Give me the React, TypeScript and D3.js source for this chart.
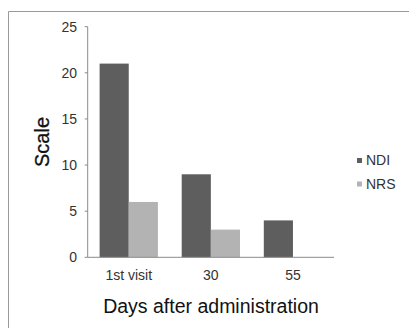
import React from "react";
import * as d3 from "d3";

const categories = ["1st visit", "30", "55"];
const seriesNames = ["NDI", "NRS"];
const ndiValues = [21, 9, 4];
const nrsValues = [6, 3, 0];
const yTicks = [0, 5, 10, 15, 20, 25];
const colors = ["#5e5e5e", "#b3b3b3"];

export default function App() {
  const W = 409, H = 328;
  const left = 87.7, right = 334, top = 26.7, bottom = 257.3;
  const x0 = d3.scaleBand<string>().domain(categories).range([left, right]).paddingInner(0.29).paddingOuter(0.145);
  const x1 = d3.scaleBand<string>().domain(seriesNames).range([0, x0.bandwidth()]);
  const y = d3.scaleLinear().domain([0, 25]).range([bottom, top]);
  const series = [ndiValues, nrsValues];
  const font = "'Liberation Sans', Arial, sans-serif";
  return (
    <svg width={W} height={H} style={{ position: "absolute", left: 0, top: 0 }}>
      <rect x={0} y={0} width={W} height={H} fill="#fff" />
      <path d={`M8.5,${H} V11.5 H${W}`} fill="none" stroke="#9a9a9a" strokeWidth={1} />
      {series.map((vals, si) =>
        vals.map((v, ci) => (
          <rect key={`${si}-${ci}`} x={(x0(categories[ci]) ?? 0) + (x1(seriesNames[si]) ?? 0)} y={y(v)} width={x1.bandwidth()} height={bottom - y(v)} fill={colors[si]} />
        ))
      )}
      <line x1={left} x2={left} y1={top} y2={bottom} stroke="#8a8a8a" />
      <line x1={left} x2={right} y1={bottom} y2={bottom} stroke="#8a8a8a" />
      {yTicks.map((t) => (
        <g key={t}>
          <line x1={left - 3} x2={left} y1={y(t)} y2={y(t)} stroke="#8a8a8a" />
          <text x={77} y={y(t)} dy="0.35em" textAnchor="end" fontFamily={font} fontSize={14} fill="#333">{t}</text>
        </g>
      ))}
      {categories.map((c) => (
        <text key={c} x={(x0(c) ?? 0) + x0.bandwidth() / 2} y={280} textAnchor="middle" fontFamily={font} fontSize={14} fill="#333">{c}</text>
      ))}
      <text x={211} y={313} textAnchor="middle" fontFamily={font} fontSize={19.5} fill="#111">Days after  administration</text>
      <text transform="translate(49,142) rotate(-90)" textAnchor="middle" fontFamily={font} fontSize={20} fill="#111" stroke="#111" strokeWidth={0.3}>Scale</text>
      {seriesNames.map((s, i) => (
        <g key={s}>
          <rect x={357} y={158 + i * 23.5} width={5} height={5} fill={colors[i]} />
          <text x={366} y={160.5 + i * 23.5} dy="0.35em" fontFamily={font} fontSize={14} fill="#333">{s}</text>
        </g>
      ))}
    </svg>
  );
}
